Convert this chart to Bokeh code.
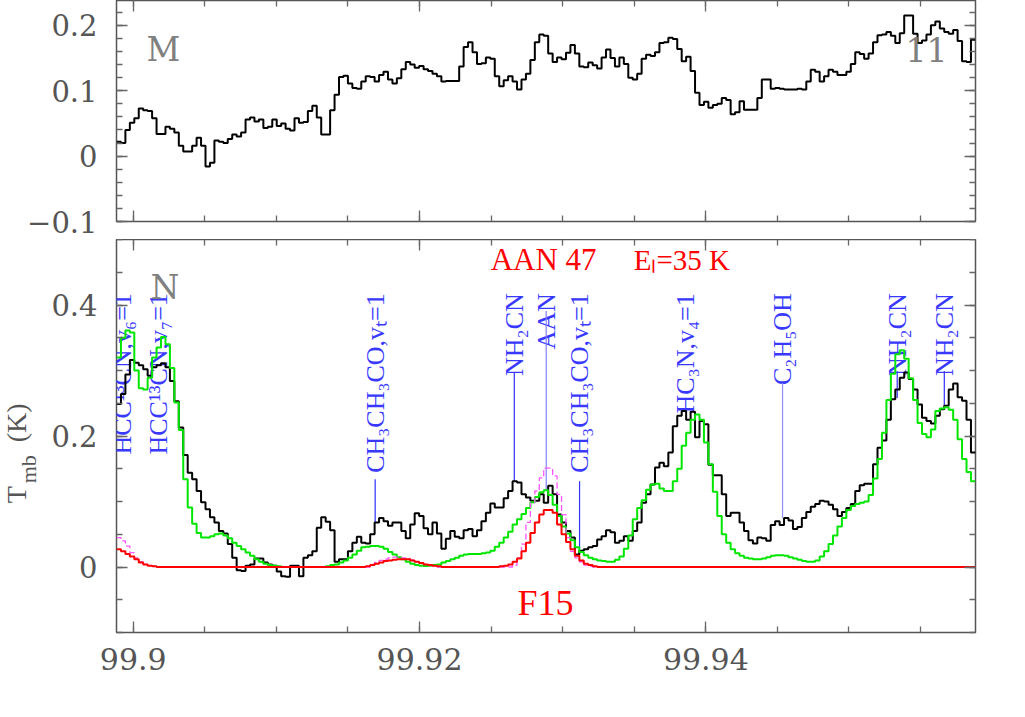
import numpy as np
from bokeh.plotting import figure
from bokeh.models import (ColumnDataSource, FixedTicker, LinearAxis, Range1d,
                          CustomJSTickFormatter, Label, LabelSet)
from bokeh.layouts import column, row
from bokeh.embed import file_html
from bokeh.resources import INLINE

# ---------------- data ----------------
FREQ_START = 99.89883   # GHz, lower edge of first channel
CHAN_WIDTH = 0.0003109  # GHz
X_RANGE = (99.89883, 99.95884)

# panel M (top): observed spectrum (K)
top_obs = [
    0.022, 0.020, 0.040, 0.051, 0.058, 0.073, 0.070, 0.069, 0.058, 0.034,
    0.034, 0.045, 0.042, 0.036, 0.016, 0.007, 0.007, 0.016, 0.028, 0.016,
    -0.016, -0.010, 0.024, 0.022, 0.020, 0.026, 0.033, 0.030, 0.036, 0.056,
    0.059, 0.053, 0.056, 0.043, 0.045, 0.056, 0.046, 0.050, 0.042, 0.039,
    0.058, 0.051, 0.052, 0.069, 0.077, 0.059, 0.033, 0.033, 0.070, 0.094,
    0.121, 0.123, 0.111, 0.104, 0.103, 0.114, 0.122, 0.121, 0.114, 0.124,
    0.129, 0.117, 0.111, 0.119, 0.133, 0.144, 0.140, 0.135, 0.138, 0.133,
    0.130, 0.126, 0.122, 0.114, 0.115, 0.115, 0.115, 0.137, 0.167, 0.174,
    0.159, 0.141, 0.142, 0.151, 0.149, 0.122, 0.107, 0.116, 0.122, 0.114,
    0.102, 0.117, 0.126, 0.147, 0.174, 0.186, 0.184, 0.157, 0.144, 0.151,
    0.148, 0.158, 0.170, 0.157, 0.137, 0.136, 0.143, 0.139, 0.134, 0.151,
    0.163, 0.150, 0.137, 0.151, 0.141, 0.120, 0.117, 0.126, 0.149, 0.155,
    0.153, 0.159, 0.173, 0.174, 0.181, 0.179, 0.164, 0.145, 0.152, 0.130,
    0.097, 0.078, 0.083, 0.074, 0.078, 0.080, 0.089, 0.086, 0.064, 0.067,
    0.084, 0.071, 0.071, 0.071, 0.089, 0.117, 0.117, 0.103, 0.104, 0.103,
    0.102, 0.102, 0.102, 0.103, 0.102, 0.114, 0.132, 0.129, 0.114, 0.122,
    0.132, 0.129, 0.124, 0.124, 0.129, 0.141, 0.159, 0.156, 0.149, 0.157,
    0.174, 0.185, 0.186, 0.190, 0.184, 0.173, 0.188, 0.215, 0.215, 0.187,
    0.173, 0.177, 0.186, 0.200, 0.206, 0.195, 0.190, 0.187, 0.193, 0.176,
    0.145, 0.144, 0.178,
]

# panel N (bottom): observed spectrum (K)
bottom_obs = [
    0.249, 0.264, 0.294, 0.316, 0.312, 0.308, 0.302, 0.292, 0.305, 0.308,
    0.311, 0.305, 0.284, 0.253, 0.213, 0.171, 0.144, 0.134, 0.116, 0.099,
    0.088, 0.076, 0.068, 0.055, 0.051, 0.035, 0.014, -0.005, -0.006, 0.002,
    0.004, 0.013, 0.013, 0.007, 0.004, 0.002, -0.007, -0.014, -0.015, 0.002,
    0.002, -0.014, 0.014, 0.018, 0.024, 0.060, 0.076, 0.069, 0.056, 0.008,
    0.012, 0.012, 0.024, 0.037, 0.046, 0.037, 0.036, 0.050, 0.068, 0.075,
    0.070, 0.063, 0.068, 0.068, 0.055, 0.044, 0.065, 0.082, 0.078, 0.059,
    0.050, 0.068, 0.051, 0.028, 0.043, 0.055, 0.046, 0.044, 0.056, 0.058,
    0.047, 0.056, 0.070, 0.083, 0.097, 0.091, 0.091, 0.105, 0.116, 0.131,
    0.129, 0.111, 0.106, 0.101, 0.101, 0.111, 0.098, 0.124, 0.111, 0.080,
    0.068, 0.055, 0.045, 0.019, 0.025, 0.027, 0.030, 0.032, 0.042, 0.047,
    0.056, 0.053, 0.037, 0.040, 0.047, 0.040, 0.055, 0.068, 0.098, 0.111,
    0.126, 0.152, 0.159, 0.154, 0.175, 0.215, 0.231, 0.238, 0.225, 0.237,
    0.198, 0.223, 0.218, 0.156, 0.140, 0.140, 0.111, 0.078, 0.083, 0.083,
    0.068, 0.055, 0.041, 0.036, 0.045, 0.044, 0.040, 0.064, 0.070, 0.064,
    0.075, 0.071, 0.058, 0.061, 0.075, 0.084, 0.092, 0.096, 0.101, 0.100,
    0.095, 0.088, 0.078, 0.084, 0.090, 0.096, 0.116, 0.125, 0.127, 0.127,
    0.157, 0.182, 0.193, 0.225, 0.256, 0.271, 0.289, 0.297, 0.287, 0.271,
    0.248, 0.228, 0.223, 0.219, 0.231, 0.241, 0.246, 0.271, 0.280, 0.259,
    0.254, 0.225, 0.175,
]

# full model, all species (green)
model_all = [
    0.320, 0.350, 0.361, 0.358, 0.300, 0.273, 0.271, 0.289, 0.320, 0.335,
    0.351, 0.340, 0.304, 0.251, 0.209, 0.134, 0.091, 0.066, 0.052, 0.045,
    0.045, 0.047, 0.050, 0.051, 0.048, 0.044, 0.037, 0.032, 0.027, 0.022,
    0.017, 0.012, 0.008, 0.005, 0.003, 0.002, 0.001, 0.0, 0.0, 0.0,
    0.0, 0.0, 0.0, 0.0, 0.0, 0.0, 0.0, 0.001, 0.003, 0.004,
    0.007, 0.010, 0.014, 0.019, 0.025, 0.030, 0.031, 0.032, 0.032, 0.031,
    0.028, 0.023, 0.019, 0.015, 0.012, 0.008, 0.005, 0.003, 0.002, 0.0015,
    0.002, 0.003, 0.004, 0.007, 0.009, 0.012, 0.014, 0.017, 0.019, 0.020,
    0.020, 0.020, 0.021, 0.022, 0.025, 0.031, 0.037, 0.045, 0.054, 0.065,
    0.073, 0.081, 0.090, 0.099, 0.107, 0.114, 0.117, 0.110, 0.095, 0.078,
    0.062, 0.051, 0.041, 0.030, 0.023, 0.018, 0.014, 0.012, 0.010, 0.009,
    0.008, 0.008, 0.011, 0.016, 0.028, 0.048, 0.073, 0.090, 0.102, 0.118,
    0.126, 0.127, 0.120, 0.116, 0.116, 0.131, 0.150, 0.185, 0.205, 0.225,
    0.233, 0.225, 0.190, 0.157, 0.115, 0.078, 0.050, 0.037, 0.027, 0.021,
    0.017, 0.014, 0.013, 0.012, 0.012, 0.013, 0.015, 0.017, 0.018, 0.018,
    0.017, 0.015, 0.013, 0.011, 0.009, 0.008, 0.008, 0.010, 0.016, 0.024,
    0.035, 0.048, 0.062, 0.075, 0.087, 0.093, 0.096, 0.098, 0.100, 0.110,
    0.135, 0.165, 0.205, 0.255, 0.295, 0.325, 0.331, 0.318, 0.288, 0.255,
    0.220, 0.203, 0.198, 0.210, 0.238, 0.242, 0.244, 0.240, 0.225, 0.195,
    0.165, 0.145, 0.131,
]

# AAN model (red, solid)
model_aan = (
    [0.027, 0.024, 0.020, 0.016, 0.012, 0.007, 0.004, 0.002, 0.001]
    + [0.0] * 47
    + [0.001, 0.003, 0.005, 0.007, 0.009, 0.010, 0.011, 0.012, 0.012,
       0.012, 0.010, 0.008, 0.006, 0.004, 0.003, 0.002, 0.001]
    + [0.0] * 13
    + [0.001, 0.002, 0.004, 0.008, 0.013, 0.024, 0.037, 0.052, 0.068,
       0.080, 0.087, 0.087, 0.083, 0.065, 0.050, 0.038, 0.027, 0.017,
       0.010, 0.005, 0.003, 0.001]
    + [0.0] * 85
)

# AAN model, alternative (magenta, dashed)
model_aan_alt = (
    [0.045, 0.040, 0.032, 0.022, 0.014, 0.008, 0.004, 0.002, 0.001]
    + [0.0] * 48
    + [0.004, 0.007, 0.010, 0.012, 0.014, 0.015, 0.015, 0.014, 0.013,
       0.011, 0.008, 0.006, 0.004, 0.002, 0.001]
    + [0.0] * 17
    + [0.003, 0.014, 0.035, 0.068, 0.098, 0.116, 0.136, 0.151, 0.151,
       0.139, 0.111, 0.080, 0.045, 0.024, 0.014, 0.008, 0.003, 0.001]
    + [0.0] * 86
)

# line identifications (panel N)
ident_names = ["HCC\u00b9\u00b3CN,v\u2086=1", "HCC\u00b9\u00b3CN,v\u2087=1",
               "CH\u2083CH\u2083CO,v\u209c=1", "NH\u2082CN", "AAN",
               "CH\u2083CH\u2083CO,v\u209c=1", "HC\u2083N,v\u2084=1",
               "C\u2082H\u2085OH", "NH\u2082CN", "NH\u2082CN"]
ident_freqs = [99.89926, 99.90173, 99.91690, 99.92662, 99.92885,
               99.93118, 99.93859, 99.94536, 99.95337, 99.95666]
ident_top = 0.418

tick_freqs = [99.91690, 99.92662, 99.92885, 99.93118, 99.94536, 99.95337, 99.95666]
tick_top = [0.134, 0.296, 0.391, 0.131, 0.281, 0.299, 0.299]
tick_bottom = [0.067, 0.131, 0.116, 0.029, 0.075, 0.258, 0.243]
tick_colors = ["#3030ff", "#3030ff", "#8080ff", "#3030ff", "#9090ff", "#3030ff", "#3030ff"]

# y-axis title pieces: T_mb (K)
ytitle_text = ["T", "mb", "(K)"]

x_major = [99.90, 99.92, 99.94]
x_minor = [round(99.895 + 0.005 * i, 3) for i in range(14)]
top_y_major = [-0.1, 0.0, 0.1, 0.2]
top_y_minor = [round(-0.1 + 0.02 * i, 2) for i in range(17)]
bot_y_major = [0.0, 0.2, 0.4]
bot_y_minor = [round(-0.1 + 0.05 * i, 2) for i in range(13)]

# ---------------- helpers ----------------
def edges_for(vals):
    return FREQ_START + CHAN_WIDTH * np.arange(len(vals) + 1)

def step_y(vals):
    return list(vals) + [vals[-1]]

GREY = "#555555"
TICK = "#666666"
Y_FMT = CustomJSTickFormatter(code="""
const v = Math.round(tick*10)/10;
if (v === 0) return "0";
return (v < 0 ? "\\u2212" : "") + Math.abs(v).toString();
""")
X_FMT = CustomJSTickFormatter(code="return (Math.round(tick*100)/100).toString();")

def style_axis(ax, ticker, fmt=None, size="30px", standoff=15):
    ax.ticker = ticker
    ax.axis_line_color = None
    ax.major_tick_in = 11
    ax.major_tick_out = 0
    ax.minor_tick_in = 6
    ax.minor_tick_out = 0
    ax.major_tick_line_color = TICK
    ax.minor_tick_line_color = TICK
    ax.major_tick_line_width = 1.3
    ax.minor_tick_line_width = 1.3
    if fmt is None:
        ax.formatter = CustomJSTickFormatter(code="return '';")
        ax.major_label_text_font_size = "0px"
        ax.major_label_standoff = 0
    else:
        ax.formatter = fmt
        ax.major_label_text_font = "DejaVu Serif"
        ax.major_label_text_font_size = size
        ax.major_label_text_color = GREY
        ax.major_label_standoff = standoff


def make_fig(width, yr, height, bleft, btop, bbottom, yticker, xlabels):
    p = figure(width=width, height=height,
               x_range=Range1d(*X_RANGE), y_range=Range1d(*yr),
               output_backend="svg", toolbar_location=None,
               min_border_left=bleft, min_border_right=42,
               min_border_top=btop, min_border_bottom=bbottom)
    p.grid.visible = False
    p.outline_line_color = "#555555"
    p.outline_line_width = 1.5
    p.background_fill_color = "white"
    p.border_fill_color = "white"
    xt = FixedTicker(ticks=x_major, minor_ticks=x_minor)
    style_axis(p.xaxis[0], xt, X_FMT if xlabels else None, "30px", 15)
    style_axis(p.yaxis[0], yticker, Y_FMT, "29px", 19)
    top_ax = LinearAxis()
    style_axis(top_ax, FixedTicker(ticks=x_major, minor_ticks=x_minor))
    p.add_layout(top_ax, "above")
    right_ax = LinearAxis()
    style_axis(right_ax, FixedTicker(ticks=yticker.ticks, minor_ticks=yticker.minor_ticks))
    p.add_layout(right_ax, "right")
    return p

def add_label(p, x, y, text, font, size, color):
    p.add_layout(Label(x=x, y=y, text=text, text_font=font, text_font_size=size,
                       text_color=color, text_baseline="alphabetic", text_align="left"))

# ---------------- top panel ----------------
p1 = make_fig(1017, (-0.1, 0.238), 239, 116, 0, 18,
              FixedTicker(ticks=top_y_major, minor_ticks=top_y_minor), False)
p1.step(x=edges_for(top_obs), y=step_y(top_obs), mode="after",
        line_color="black", line_width=2)
add_label(p1, 99.90093, 0.1635, "M", "DejaVu Serif", "33px", "#808080")
add_label(p1, 99.95395, 0.1635, "11", "DejaVu Serif", "33px", "#808080")

# ---------------- bottom panel ----------------
YLAB_W = 40
p2 = make_fig(1017 - YLAB_W, (-0.1, 0.5), 470, 116 - YLAB_W, 0, 77,
              FixedTicker(ticks=bot_y_major, minor_ticks=bot_y_minor), True)

ident_src = ColumnDataSource(dict(x=ident_freqs, y=[ident_top] * len(ident_freqs),
                                  text=ident_names))
p2.add_layout(LabelSet(x="x", y="y", text="text", source=ident_src,
                       angle=np.pi / 2, text_align="right", text_baseline="middle",
                       text_font="DejaVu Serif", text_font_size="26px",
                       text_color="#3838ff", level="underlay"))
p2.segment(x0=tick_freqs, y0=tick_bottom, x1=tick_freqs, y1=tick_top,
           line_color=tick_colors, line_width=1.2)

p2.step(x=edges_for(bottom_obs), y=step_y(bottom_obs), mode="after",
        line_color="black", line_width=2)
p2.step(x=edges_for(model_all), y=step_y(model_all), mode="after",
        line_color="#00e600", line_width=2)
p2.step(x=edges_for(model_aan_alt), y=step_y(model_aan_alt), mode="after",
        line_color="#ff55ff", line_width=1.3, line_dash="6 3")
p2.step(x=edges_for(model_aan), y=step_y(model_aan), mode="after",
        line_color="#ff0000", line_width=2)

add_label(p2, 99.90121, 0.426, "N", "DejaVu Serif", "33px", "#808080")
add_label(p2, 99.92497, 0.469, "AAN 47", "Liberation Serif", "31px", "#ff0000")
add_label(p2, 99.93496, 0.469, "E\u2097=35 K", "Liberation Serif", "29px", "#ff0000")
add_label(p2, 99.92685, -0.055, "F15", "Liberation Serif", "36px", "#ff0000")

# ---------------- y-axis title panel: T_mb (K) ----------------
ylab = figure(width=YLAB_W, height=470, x_range=Range1d(0, YLAB_W), y_range=Range1d(0, 470),
              output_backend="svg", toolbar_location=None,
              min_border_left=0, min_border_right=0, min_border_top=0, min_border_bottom=0,
              x_axis_type=None, y_axis_type=None)
ylab.grid.visible = False
ylab.outline_line_color = None
ylab.background_fill_color = "white"
ylab.border_fill_color = "white"
big_src = ColumnDataSource(dict(x=[16, 16], y=[175, 274], text=[ytitle_text[0], ytitle_text[2]]))
small_src = ColumnDataSource(dict(x=[28], y=[212], text=[ytitle_text[1]]))
ylab.add_layout(LabelSet(x="x", y="y", text="text", source=big_src,
                         angle=np.pi / 2, text_align="right", text_baseline="middle",
                         text_font="DejaVu Serif", text_font_size="28px", text_color=GREY))
ylab.add_layout(LabelSet(x="x", y="y", text="text", source=small_src,
                         angle=np.pi / 2, text_align="right", text_baseline="middle",
                         text_font="DejaVu Serif", text_font_size="22px", text_color=GREY))

layout = column(p1, row(ylab, p2, spacing=0), spacing=0)
open("out.html", "w").write(file_html(layout, INLINE))
